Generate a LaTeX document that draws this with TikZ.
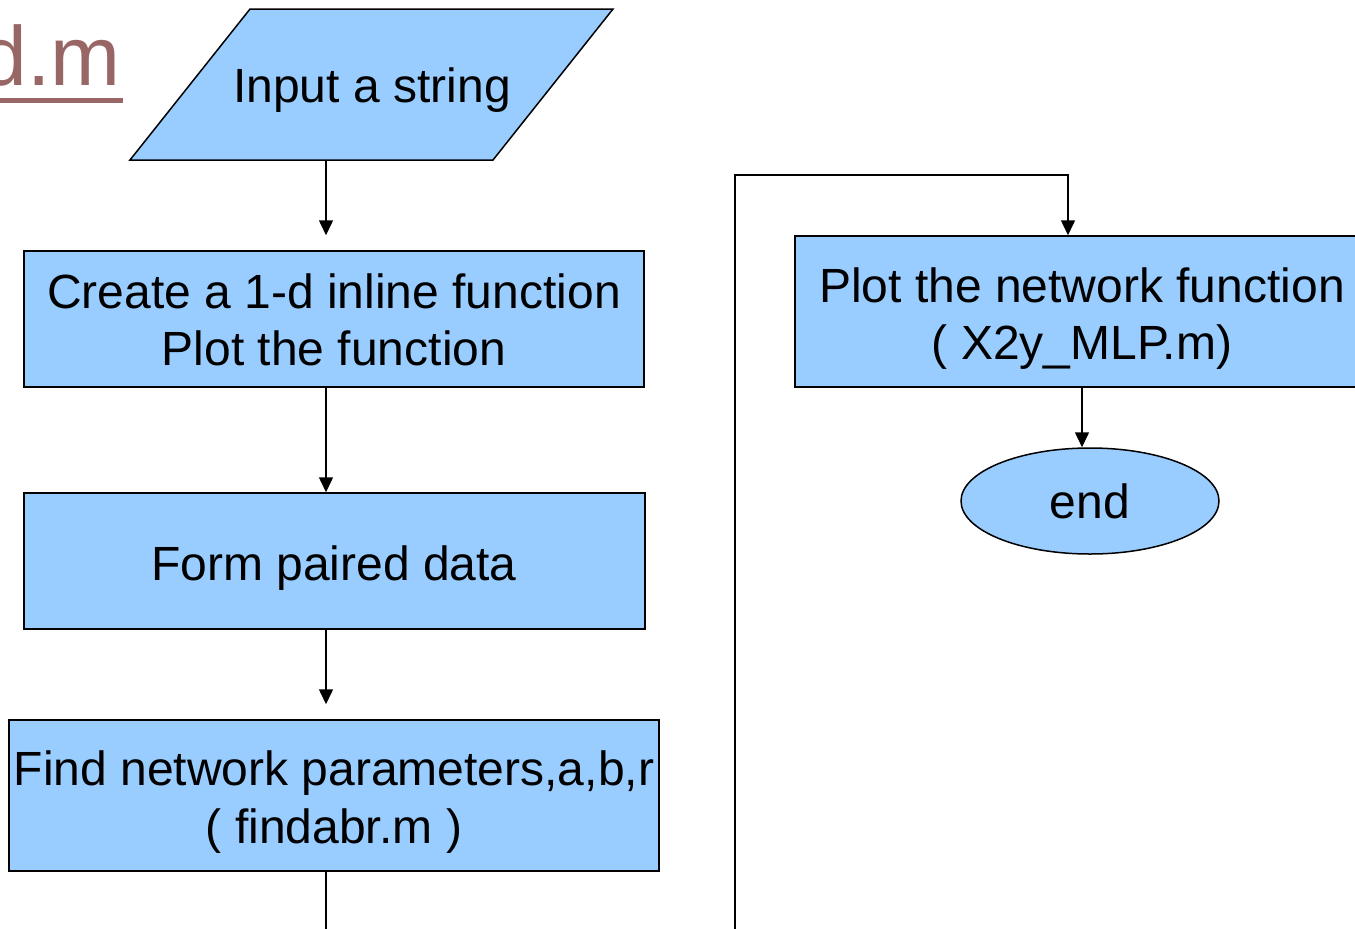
\documentclass[tikz,border=0pt]{standalone}
\usepackage{fontspec}
\setmainfont{Liberation Sans}
\usetikzlibrary{shapes.geometric,arrows.meta}
\definecolor{boxfill}{RGB}{153,204,255}
\definecolor{titlec}{RGB}{153,102,102}
\tikzset{
  x=1pt, y=-1pt,
  box/.style={draw=black, fill=boxfill, line width=1.5pt, rectangle, inner sep=0pt},
  endbox/.style={draw=black, fill=boxfill, line width=1.5pt, ellipse, inner sep=0pt},
  txt/.style={anchor=base, inner sep=0pt, font=\fontsize{48}{58}\selectfont},
  conn/.style={line width=1.5pt, draw=black},
  arr/.style={conn, -{Triangle[length=15pt,width=14pt]}},
}
\begin{document}
\begin{tikzpicture}
\useasboundingbox (0,0) rectangle (1355,929);
\clip (0,0) rectangle (1355,929);

% title fragment
\node[anchor=base east, inner sep=0pt, text=titlec, font=\fontsize{84}{100}\selectfont] (title) at (121,85) {d.m};
\draw[titlec, line width=5pt] (-5,100) -- (123,100);

% input parallelogram
\draw[fill=boxfill, line width=1.5pt, line join=miter] (250,9) -- (613,9) -- (493,160) -- (130,160) -- cycle;
\node[txt] (in) at (372,102) {Input a string};
\coordinate (inb) at (326,160);
\coordinate (col) at (326,0);

% left column boxes
\node[box, minimum width=620pt, minimum height=136pt] (b1) at (334,319) {};
\node[txt] (b1a) at (334,308) {Create a 1-d inline function};
\node[txt] (b1b) at (334,365) {Plot the function};
\node[box, minimum width=621pt, minimum height=136pt] (b2) at (334.5,561) {};
\node[txt] (b2a) at (334,580) {Form paired data};
\node[box, minimum width=650pt, minimum height=151pt] (b3) at (334,795.5) {};
\node[txt] (b3a) at (334,785) {Find network parameters,a,b,r};
\node[txt] (b3b) at (334,843) {( findabr.m )};

% right column
\node[box, minimum width=574pt, minimum height=151pt] (rb) at (1082,311.5) {};
\node[txt] (rba) at (1082,302) {Plot the network function};
\node[txt] (rbb) at (1082,359) {( X2y\_MLP.m)};
\node[endbox, minimum width=258pt, minimum height=106pt] (e) at (1090,501) {};
\node[txt] (et) at (1090,518) {end};

% bottom-edge coordinates
\coordinate (bl) at (326,935);
\coordinate (br) at (735,935);
\coordinate (tl) at (735,175);
\coordinate (tr) at (1068,175);

% connectors
\draw[arr, shorten >=15pt] (inb) -- (inb |- b1.north);
\draw[arr] (col |- b1.south) -- (col |- b2.north);
\draw[arr, shorten >=15pt] (col |- b2.south) -- (col |- b3.north);
\draw[conn] (col |- b3.south) -- (bl);
\draw[arr] (br) -- (tl) -- (tr) -- (tr |- rb.north);
\draw[arr] (rb.south) -- (rb.south |- e.north);
\end{tikzpicture}
\end{document}
